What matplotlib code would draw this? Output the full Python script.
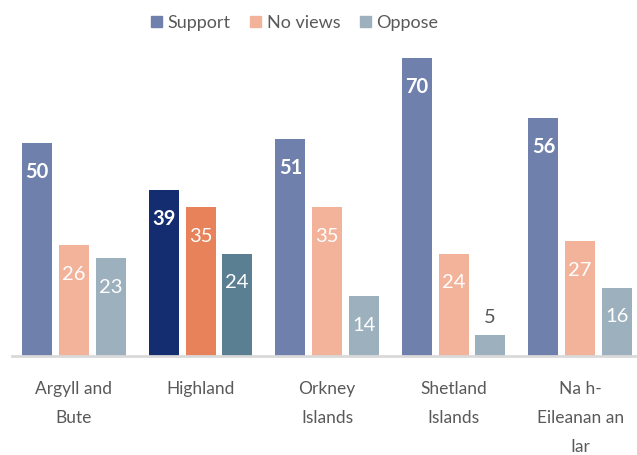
import matplotlib
matplotlib.use('Agg')
import matplotlib.pyplot as plt
import numpy as np

categories = ['Argyll and\nBute', 'Highland', 'Orkney\nIslands', 'Shetland\nIslands', 'Na h-\nEileanan an\nIar']
series = ['Support', 'No views', 'Oppose']
support = [50, 39, 51, 70, 56]
no_views = [26, 35, 35, 24, 27]
oppose = [23, 24, 14, 5, 16]
highlight = 1  # Highland

base_colors = ['#6F80AC', '#F2B39A', '#9DB0BD']
hi_colors = ['#132D70', '#E8825A', '#5B7F92']
text_grey = '#595959'

plt.rcParams['font.family'] = ['Lato', 'DejaVu Sans']

fig = plt.figure(figsize=(6.37, 4.55), dpi=100)
ax = fig.add_axes([12/637, 99/455, 625/637, 319/455])

x = np.arange(len(categories))
width = 0.237
step = 0.29
values = [support, no_views, oppose]

for i, (name, vals) in enumerate(zip(series, values)):
    cols = [hi_colors[i] if j == highlight else base_colors[i] for j in range(len(x))]
    pos = x + (i - 1) * step
    ax.bar(pos, vals, width, color=cols, label=name)
    for p, v in zip(pos, vals):
        weight = 'bold' if i == 0 else 'normal'
        if v < 8:
            ax.annotate(str(v), (p, v), xytext=(0, 17), textcoords='offset pixels',
                        ha='center', va='center', fontsize=14.5, color=text_grey)
        else:
            ax.annotate(str(v), (p, v), xytext=(0, -29), textcoords='offset pixels',
                        ha='center', va='center', fontsize=14.5, color='white',
                        fontweight=weight)

ax.set_xlim(-0.49, 4.45)
ax.set_ylim(0, 75)
ax.set_yticks([])
ax.set_xticks(x)
ax.set_xticklabels(categories, fontsize=12.5, color=text_grey, linespacing=2.0,
                   va='top')
ax.tick_params(axis='x', length=0, pad=18)
for s in ['top', 'right', 'left']:
    ax.spines[s].set_visible(False)
ax.spines['bottom'].set_color('#D9D9D9')
ax.spines['bottom'].set_linewidth(2)

leg = fig.legend(loc='center', bbox_to_anchor=(0.463, 0.95), ncol=3, frameon=False,
                 fontsize=13, handlelength=0.6, handleheight=0.6, handletextpad=0.3,
                 columnspacing=1.1)
for t in leg.get_texts():
    t.set_color(text_grey)
# legend swatches use the base colours
for h, c in zip(leg.legend_handles, base_colors):
    h.set_color(c)

fig.savefig('out.png', dpi=100)
